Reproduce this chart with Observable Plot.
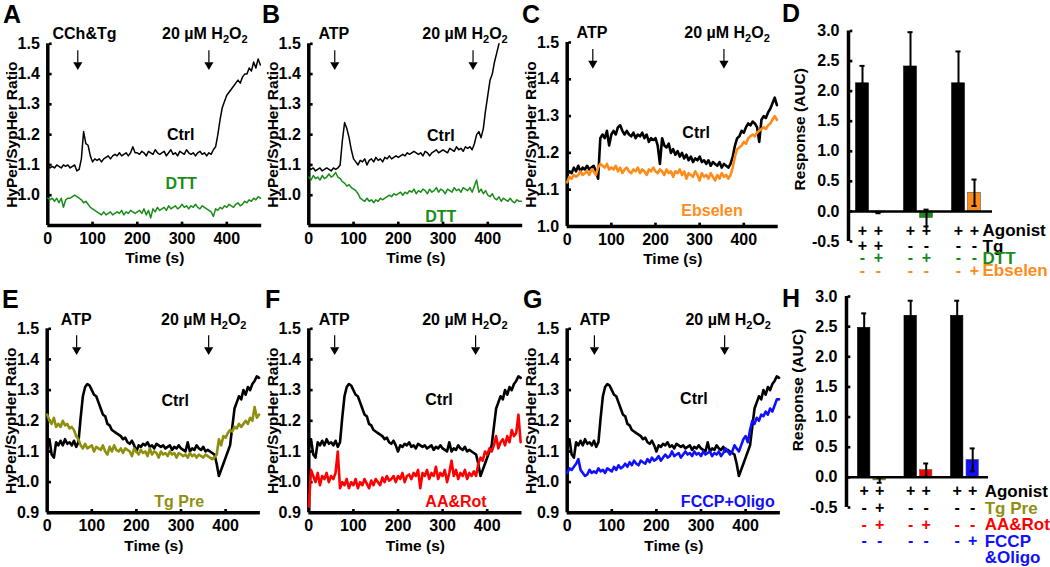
<!DOCTYPE html>
<html><head><meta charset="utf-8">
<script src="https://cdn.jsdelivr.net/npm/d3@7"></script>
<script src="https://cdn.jsdelivr.net/npm/@observablehq/plot@0.6"></script>
<style>
body{margin:0;background:#fff;}
#fig{position:relative;width:1050px;height:567px;overflow:hidden;background:#fff;}
#fig svg{position:absolute;overflow:visible;}
</style></head><body><div id="fig"></div>
<script>
// ---------- data ----------
const times = [0,5,10,15,20,25,30,35,40,45,50,55,60,65,70,75,80,85,90,95,100,105,110,115,120,125,130,135,140,145,150,155,160,165,170,175,180,185,190,195,200,205,210,215,220,225,230,235,240,245,250,255,260,265,270,275,280,285,290,295,300,305,310,315,320,325,330,335,340,345,350,355,360,365,370,375,380,385,390,395,400,405,410,415,420,425,430,435,440,445,450,455,460,465,470,475];
const timeTicks = [0,100,200,300,400];

const aCtrl = [1.10,1.09,1.095,1.09,1.10,1.095,1.09,1.10,1.095,1.10,1.09,1.095,
 1.10,1.08,1.085,1.12,1.21,1.17,1.165,1.13,
 1.11,1.12,1.115,1.12,1.11,1.12,1.125,1.13,1.12,1.13,1.135,1.13,1.14,1.13,1.135,1.14,1.13,1.14,1.16,1.14,
 1.14,1.135,1.145,1.14,1.13,1.145,1.14,1.135,1.15,1.14,1.135,1.14,1.145,1.13,1.14,1.15,1.135,1.14,1.13,1.145,1.14,1.135,1.15,1.14,1.135,1.14,1.13,1.14,1.145,1.135,1.14,1.13,1.14,1.135,
 1.15,1.16,1.20,1.25,1.29,1.31,1.33,1.34,1.35,1.36,1.37,1.38,1.37,1.39,1.40,1.40,1.42,1.41,1.44,1.42,1.45,1.43];
const aDtt = [0.99,0.985,0.99,0.98,0.99,0.975,0.99,0.96,0.985,0.99,0.99,0.995,
 1.00,0.995,0.99,0.985,0.975,0.98,0.97,0.96,
 0.955,0.95,0.945,0.94,0.935,0.945,0.935,0.94,0.945,0.935,0.94,0.945,0.94,0.95,0.935,0.945,0.94,0.95,0.945,0.94,
 0.945,0.95,0.94,0.955,0.935,0.95,0.925,0.955,0.945,0.96,0.95,0.955,0.96,0.95,0.965,0.955,0.96,0.965,0.955,0.96,0.97,0.96,0.965,0.955,0.965,0.96,0.97,0.96,0.955,0.965,0.96,0.955,0.95,0.945,
 0.93,0.955,0.95,0.96,0.955,0.965,0.96,0.97,0.965,0.96,0.97,0.975,0.965,0.97,0.98,0.975,0.985,0.98,0.99,0.985,0.995,0.99];
const bCtrl = [1.09,1.085,1.09,1.08,1.085,1.09,1.08,1.085,1.09,1.085,1.08,1.09,
 1.085,1.09,1.10,1.18,1.24,1.22,1.19,1.15,
 1.12,1.11,1.10,1.115,1.11,1.12,1.10,1.115,1.12,1.11,1.125,1.115,1.12,1.11,1.125,1.12,1.13,1.12,1.125,1.13,
 1.125,1.13,1.135,1.13,1.14,1.135,1.14,1.145,1.14,1.135,1.14,1.13,1.145,1.14,1.13,1.14,1.145,1.15,1.14,1.145,1.15,1.145,1.14,1.155,1.15,1.145,1.16,1.15,1.155,1.145,1.16,1.155,1.16,1.15,
 1.17,1.20,1.21,1.19,1.22,1.28,1.33,1.38,1.40,1.44,1.47,1.50,null,null,null,null,null,null,null,null,null,null];
const bDtt = [1.06,1.05,1.065,1.055,1.06,1.05,1.065,1.055,1.06,1.07,1.06,1.065,
 1.075,1.06,1.055,1.045,1.04,1.03,1.035,1.025,
 1.02,1.015,1.005,0.99,0.985,0.98,0.99,0.98,0.985,0.975,0.985,0.98,0.99,0.985,0.99,0.995,1.00,0.995,1.005,1.00,
 1.005,1.01,1.00,1.01,1.005,1.015,1.01,1.02,1.005,1.015,1.01,1.02,1.015,1.005,1.02,1.01,1.015,1.025,1.01,1.02,1.015,1.005,1.02,1.015,1.01,1.025,1.015,1.02,1.01,1.025,1.02,1.015,1.025,1.01,
 1.03,1.05,1.01,1.02,1.005,1.015,1.00,0.995,1.005,0.99,0.985,0.995,0.98,0.99,0.985,0.98,0.99,0.98,0.975,0.985,0.98,0.98];
const cCtrl = [1.14,1.15,1.145,1.16,1.15,1.165,1.15,1.16,1.155,1.165,1.155,1.16,
 1.165,1.15,1.13,1.24,1.25,1.24,1.26,1.22,
 1.25,1.26,1.25,1.27,1.275,1.26,1.25,1.26,1.25,1.245,1.255,1.24,1.25,1.245,1.255,1.24,1.25,1.23,1.24,1.235,
 1.24,1.22,1.17,1.24,1.22,1.215,1.225,1.20,1.21,1.195,1.205,1.19,1.20,1.185,1.195,1.18,1.19,1.175,1.185,1.18,1.19,1.175,1.18,1.17,1.18,1.165,1.175,1.17,1.165,1.175,1.16,1.17,1.165,1.16,
 1.17,1.19,1.22,1.24,1.245,1.26,1.255,1.27,1.28,1.275,1.285,1.28,1.27,1.23,1.29,1.30,1.295,1.31,1.32,1.335,1.35,1.33];
const cEbselen = [1.12,1.135,1.13,1.14,1.135,1.14,1.15,1.14,1.145,1.15,1.14,1.155,
 1.15,1.14,1.16,1.17,1.165,1.16,1.17,1.155,
 1.16,1.155,1.165,1.15,1.16,1.145,1.155,1.16,1.15,1.145,1.155,1.15,1.16,1.145,1.155,1.15,1.14,1.155,1.15,1.16,
 1.15,1.145,1.155,1.15,1.14,1.155,1.145,1.15,1.135,1.15,1.145,1.155,1.14,1.15,1.13,1.145,1.14,1.135,1.15,1.14,1.125,1.145,1.135,1.14,1.13,1.145,1.135,1.125,1.14,1.13,1.145,1.135,1.14,1.13,
 1.14,1.16,1.19,1.21,1.215,1.22,1.23,1.225,1.24,1.245,1.25,1.245,1.255,1.26,1.265,1.27,1.265,1.275,1.28,1.29,1.30,1.29];
const efgCtrl = [1.11,1.14,1.09,1.08,1.13,1.12,1.135,1.12,1.14,1.125,1.13,1.12,
 1.135,1.115,1.13,1.21,1.28,1.31,1.32,1.315,
 1.30,1.285,1.28,1.26,1.24,1.22,1.215,1.19,1.185,1.17,1.165,1.16,1.155,1.15,1.14,1.145,1.13,1.125,1.135,1.12,
 1.10,1.12,1.115,1.125,1.12,1.13,1.115,1.12,1.11,1.125,1.12,1.115,1.12,1.11,1.115,1.12,1.105,1.115,1.11,1.12,1.11,1.105,1.10,1.13,1.10,1.11,1.105,1.12,1.11,1.105,1.115,1.10,1.105,1.10,
 1.095,1.09,1.06,1.02,1.04,1.06,1.08,1.10,1.12,1.18,1.24,1.26,1.28,1.27,1.30,1.285,1.31,1.30,1.32,1.33,1.345,1.34];
const eTgPre = [1.22,1.20,1.19,1.21,1.18,1.19,1.18,1.20,1.185,1.19,1.175,1.18,
 1.17,1.15,1.14,1.12,1.11,1.125,1.11,1.115,
 1.12,1.10,1.115,1.11,1.105,1.12,1.10,1.09,1.115,1.10,1.12,1.105,1.10,1.11,1.095,1.11,1.105,1.10,1.085,1.11,
 1.10,1.09,1.105,1.095,1.10,1.085,1.11,1.09,1.10,1.095,1.08,1.10,1.09,1.095,1.085,1.10,1.09,1.095,1.08,1.095,1.09,1.085,1.09,1.08,1.095,1.085,1.09,1.08,1.09,1.085,1.08,1.09,1.085,1.08,
 1.075,1.08,1.09,1.14,1.12,1.15,1.145,1.16,1.17,1.165,1.18,1.175,1.19,1.18,1.19,1.20,1.19,1.21,1.20,1.245,1.21,1.22];
const fAARot = [0.92,1.04,1.02,1.00,1.03,0.99,1.02,1.01,1.03,1.00,1.02,1.01,
 1.03,1.10,0.98,1.00,0.99,1.01,0.98,1.00,
 0.99,1.01,0.98,1.00,0.99,1.01,0.995,0.98,1.005,0.99,1.01,1.00,0.99,1.015,1.00,1.02,1.005,1.01,1.02,1.00,
 1.02,1.01,1.03,1.00,1.02,1.025,1.01,1.03,1.02,1.04,0.98,1.03,1.02,1.04,1.01,1.03,1.02,1.05,1.01,1.03,1.02,1.04,1.00,1.03,1.07,1.02,1.04,1.01,1.03,1.02,1.04,1.01,1.03,1.02,
 1.035,1.02,1.06,1.08,1.07,1.10,1.09,1.11,1.10,1.12,1.15,1.11,1.13,1.14,1.12,1.15,1.13,1.17,1.15,1.16,1.22,1.13];
const gFccpOligo = [1.03,1.045,1.04,1.05,1.06,1.075,1.04,1.03,1.02,1.025,1.04,1.03,
 1.035,1.03,1.045,1.035,1.04,1.03,1.045,1.04,
 1.035,1.05,1.04,1.055,1.045,1.05,1.06,1.05,1.065,1.055,1.07,1.06,1.055,1.07,1.065,1.06,1.075,1.065,1.08,1.07,
 1.075,1.085,1.07,1.08,1.09,1.08,1.085,1.10,1.085,1.09,1.095,1.08,1.09,1.10,1.09,1.095,1.085,1.10,1.09,1.095,1.085,1.10,1.09,1.095,1.10,1.085,1.095,1.09,1.10,1.085,1.095,1.11,1.10,1.09,
 1.10,1.12,1.11,1.10,1.12,1.14,1.15,1.13,1.17,1.20,1.19,1.21,1.20,1.22,1.215,1.23,1.22,1.24,1.23,1.25,1.27,1.27];

// stimulus arrows (time, s) and their labels
const aArrows = [67, 360], bArrows = [58, 367], cArrows = [58, 355];
const eArrows = [66, 362], fArrows = [58, 374], gArrows = [61, 353];
const aStimuli = ["CCh&Tg", "20 µM H2O2"], otherStimuli = ["ATP", "20 µM H2O2"];
const aStimT = [82, 351], bStimT = [56, 349], cStimT = [56, 362];
const eStimT = [65, 351], fStimT = [57, 350], gStimT = [62, 361];

// trace labels
const aLabels = [{name:"Ctrl", t:297, v:1.198, color:"black"}, {name:"DTT", t:298, v:1.037, color:"#1a8c1a"}];
const bLabels = [{name:"Ctrl", t:295, v:1.195, color:"black"}, {name:"DTT", t:295, v:0.93, color:"#1a8c1a"}];
const cLabels = [{name:"Ctrl", t:292, v:1.255, color:"black"}, {name:"Ebselen", t:328, v:1.042, color:"#ff8c1a"}];
const eLabels = [{name:"Ctrl", t:287, v:1.264, color:"black"}, {name:"Tg Pre", t:296, v:0.935, color:"#8f8f0f"}];
const fLabels = [{name:"Ctrl", t:292, v:1.267, color:"black"}, {name:"AA&Rot", t:330, v:0.935, color:"#ff0000"}];
const gLabels = [{name:"Ctrl", t:284, v:1.27, color:"black"}, {name:"FCCP+Oligo", t:360, v:0.935, color:"#1010ff"}];

// bar charts (AUC)
const dMeans = [2.13, -0.02, 2.41, -0.11, 2.13, 0.31];
const dSems  = [0.29, 0.01, 0.57, 0.14, 0.53, 0.22];
const dColors = ["black", "#1a8c1a", "black", "#1a8c1a", "black", "#ff8c1a"];
const hMeans = [2.48, -0.05, 2.68, 0.12, 2.68, 0.29];
const hSems  = [0.24, 0.04, 0.25, 0.11, 0.25, 0.19];
const hColors = ["black", "#8f8f0f", "black", "#ff0000", "black", "#1010ff"];
const barTicks = [-0.5, 0, 0.5, 1, 1.5, 2, 2.5, 3];

const dAgonist = ["+","+","+","+","+","+"];
const dTg      = ["+","+","-","-","-","-"];
const dDTT     = ["-","+","-","+","-","-"];
const dEbselen = ["-","-","-","-","-","+"];
const hAgonist = ["+","+","+","+","+","+"];
const hTgPre   = ["-","+","-","-","-","-"];
const hAARot   = ["-","+","-","+","-","-"];
const hFCCP    = ["-","-","-","-","-","+"];

// ---------- drawing ----------
const FONT = '"Liberation Sans", Arial, Helvetica, sans-serif';
const fig = document.getElementById("fig");
const baseStyle = {fontFamily: FONT, fontSize: "16px", fontWeight: "bold", color: "black", background: "transparent", overflow: "visible"};

function place(svg, left, top) {
  svg.style.left = left + "px"; svg.style.top = top + "px";
  fig.appendChild(svg);
}
function subscripts(svg) {
  d3.select(svg).selectAll("text").filter(function() { return this.textContent === "20 µM H2O2"; }).each(function() {
    const t = d3.select(this); t.text(null);
    t.append("tspan").text("20 µM H");
    t.append("tspan").attr("dy", 4).attr("font-size", "11px").text("2");
    t.append("tspan").attr("dy", -4).text("O");
    t.append("tspan").attr("dy", 4).attr("font-size", "11px").text("2");
  });
}

function tracePanel(c) {
  const xMax = 478;
  const frameW = xMax * c.pps;
  const mL = c.axisX - c.left, mT = c.yTopPx - c.top, mB = c.top + c.height - c.yBotPx;
  const mR = c.width - mL - frameW;
  const frameH = c.yBotPx - c.yTopPx;
  const marks = [
    Plot.ruleX([0], {strokeWidth: 3.5, stroke: "black"}),
    Plot.ruleY([c.yDomain[0]], {strokeWidth: 3.5, stroke: "black"}),
    Plot.dot(c.yTicks, {y: d => d, frameAnchor: "left", dx: 2.5, r: 1.5, symbol: "square", fill: "black"}),
    Plot.dot(timeTicks.slice(1), {x: d => d, frameAnchor: "bottom", dy: -2.5, r: 1.5, symbol: "square", fill: "black"}),
    ...c.series.map(s => Plot.line(s.values, {x: (d, i) => times[i], y: d => d, stroke: s.color, strokeWidth: s.w, strokeLinejoin: "round"})),
    Plot.text(c.labels, {x: "t", y: "v", text: "name", fill: "color", fontSize: 16}),
    Plot.ruleX(c.arrows, {x: d => d, insetTop: 7, insetBottom: frameH - 19, strokeWidth: 1.2, stroke: "black"}),
    Plot.dot(c.arrows, {x: d => d, frameAnchor: "top", dy: 21, symbol: "triangle", rotate: 180, r: 3.4, fill: "black", stroke: "none"}),
    Plot.text(c.stim, {x: (d, i) => c.stimT[i], frameAnchor: "top", lineAnchor: "middle", dy: c.stimDy, text: d => d, fontSize: 16}),
    Plot.text(["HyPer/SypHer Ratio"], {frameAnchor: "left", textAnchor: "middle", lineAnchor: "middle", rotate: -90, dx: -36, text: d => d, fontSize: 15.5}),
    Plot.text(["Time (s)"], {frameAnchor: "bottom", textAnchor: "middle", lineAnchor: "middle", dy: 33, text: d => d, fontSize: 15.5})
  ];
  const svg = Plot.plot({
    width: c.width, height: c.height, marginLeft: mL, marginRight: mR, marginTop: mT, marginBottom: mB,
    x: {domain: [0, xMax], ticks: timeTicks, tickSize: 0, tickPadding: c.xPad, label: null},
    y: {domain: c.yDomain, ticks: c.yTicks, tickSize: 0, tickPadding: 8, tickFormat: d => d.toFixed(1), label: null},
    style: baseStyle,
    marks
  });
  subscripts(svg);
  place(svg, c.left, c.top);
}

function barPanel(c) {
  const bars = c.means.map((m, i) => ({pos: Math.floor(i / 2) * 3 + (i % 2), mean: m, sem: c.sems[i], color: c.colors[i]}));
  const mL = c.axisX - c.left, mT = c.yTopPx - c.top, mB = c.top + c.height - c.yBotPx;
  const mR = c.width - mL - c.frameW;
  const colored = bars.filter(d => d.color !== "black");
  const marks = [
    Plot.rectY(bars, {x1: d => d.pos - 0.4, x2: d => d.pos + 0.4, y1: () => 0, y2: d => d.mean, fill: d => d.color, stroke: d => d.color === "black" ? "black" : "#555", strokeWidth: 0.6}),
    Plot.ruleX(bars, {x: "pos", y1: d => d.mean - d.sem, y2: d => d.mean + d.sem, strokeWidth: 2, stroke: "black"}),
    Plot.ruleY(bars, {y: d => d.mean + d.sem, x1: d => d.pos - 0.16, x2: d => d.pos + 0.16, strokeWidth: 2, stroke: "black"}),
    Plot.ruleY(colored, {y: d => d.mean - d.sem, x1: d => d.pos - 0.16, x2: d => d.pos + 0.16, strokeWidth: 2, stroke: "black"}),
    Plot.ruleY([0], {strokeWidth: 2.5, stroke: "black"}),
    Plot.ruleX([c.xDomain[0]], {strokeWidth: 3.5, stroke: "black"}),
    Plot.dot(barTicks, {y: d => d, frameAnchor: "left", dx: 2.5, r: 1.5, symbol: "square", fill: "black"}),
    Plot.text(["Response (AUC)"], {frameAnchor: "left", textAnchor: "middle", lineAnchor: "middle", rotate: -90, dx: -48, dy: c.titleDy, text: d => d, fontSize: 15.5})
  ];
  c.rows.forEach(r => {
    if (r.signs) marks.push(Plot.text(r.signs, {x: (d, i) => bars[i].pos, frameAnchor: "bottom", lineAnchor: "middle", dy: r.dy, text: d => d, fill: r.signColor, fontSize: 16}));
    marks.push(Plot.text([r.name], {x: () => bars[5].pos, dx: c.nameDx, frameAnchor: "bottom", lineAnchor: "middle", dy: r.dy, text: d => d, textAnchor: "start", fill: r.color, fontSize: 17}));
  });
  const svg = Plot.plot({
    width: c.width, height: c.height, marginLeft: mL, marginRight: mR, marginTop: mT, marginBottom: mB,
    x: {domain: c.xDomain, axis: null},
    y: {domain: [-0.5, 3], ticks: barTicks, tickSize: 0, tickPadding: 9, tickFormat: d => d.toFixed(1), label: null},
    style: baseStyle,
    marks
  });
  place(svg, c.left, c.top);
}

const GREEN = "#1a8c1a", ORANGE = "#ff8c1a", OLIVE = "#8f8f0f", RED = "#ff0000", BLUE = "#1010ff";
const yTop = [1.0, 1.1, 1.2, 1.3, 1.4, 1.5];
const yBot = [0.9, 1.0, 1.1, 1.2, 1.3, 1.4, 1.5];

tracePanel({left: 0, top: 0, width: 262, height: 270, axisX: 47.3, yTopPx: 43.3, yBotPx: 225, pps: 0.4475, xPad: 7,
  yDomain: [0.9, 1.5], yTicks: yTop, series: [{values: aCtrl, color: "black", w: 1.5}, {values: aDtt, color: GREEN, w: 1.5}],
  labels: aLabels, arrows: aArrows, stim: aStimuli, stimT: aStimT, stimDy: -10});
tracePanel({left: 262, top: 0, width: 262, height: 270, axisX: 308.3, yTopPx: 43.3, yBotPx: 225, pps: 0.4475, xPad: 7,
  yDomain: [0.9, 1.5], yTicks: yTop, series: [{values: bCtrl, color: "black", w: 1.5}, {values: bDtt, color: GREEN, w: 1.5}],
  labels: bLabels, arrows: bArrows, stim: otherStimuli, stimT: bStimT, stimDy: -10});
tracePanel({left: 522, top: 0, width: 262, height: 270, axisX: 566.7, yTopPx: 42, yBotPx: 226, pps: 0.4415, xPad: 7,
  yDomain: [1.0, 1.5], yTicks: yTop, series: [{values: cCtrl, color: "black", w: 2.6}, {values: cEbselen, color: ORANGE, w: 2.6}],
  labels: cLabels, arrows: cArrows, stim: otherStimuli, stimT: cStimT, stimDy: -10});
tracePanel({left: 0, top: 280, width: 262, height: 287, axisX: 46.7, yTopPx: 328.3, yBotPx: 512.3, pps: 0.446, xPad: 6.5,
  yDomain: [0.9, 1.5], yTicks: yBot, series: [{values: efgCtrl, color: "black", w: 2.6}, {values: eTgPre, color: OLIVE, w: 2.6}],
  labels: eLabels, arrows: eArrows, stim: otherStimuli, stimT: eStimT, stimDy: -9});
tracePanel({left: 262, top: 280, width: 262, height: 287, axisX: 308.3, yTopPx: 328.3, yBotPx: 512.3, pps: 0.446, xPad: 6.5,
  yDomain: [0.9, 1.5], yTicks: yBot, series: [{values: efgCtrl, color: "black", w: 2.6}, {values: fAARot, color: RED, w: 2.6}],
  labels: fLabels, arrows: fArrows, stim: otherStimuli, stimT: fStimT, stimDy: -9});
tracePanel({left: 522, top: 280, width: 262, height: 287, axisX: 566.7, yTopPx: 328.3, yBotPx: 512.3, pps: 0.446, xPad: 6.5,
  yDomain: [0.9, 1.5], yTicks: yBot, series: [{values: efgCtrl, color: "black", w: 2.6}, {values: gFccpOligo, color: BLUE, w: 2.6}],
  labels: gLabels, arrows: gArrows, stim: otherStimuli, stimT: gStimT, stimDy: -9});

barPanel({left: 782, top: 0, width: 268, height: 280, axisX: 848, yTopPx: 30.5, yBotPx: 241, frameW: 144, xDomain: [-0.875, 8.125],
  means: dMeans, sems: dSems, colors: dColors, nameDx: 8, titleDy: -7,
  rows: [{signs: dAgonist, name: "Agonist", color: "black", signColor: "black", dy: -11},
         {signs: dTg, name: "Tg", color: "black", signColor: "black", dy: 4.7},
         {signs: dDTT, name: "DTT", color: GREEN, signColor: GREEN, dy: 16.7},
         {signs: dEbselen, name: "Ebselen", color: ORANGE, signColor: ORANGE, dy: 29}]});
barPanel({left: 782, top: 280, width: 268, height: 287, axisX: 846, yTopPx: 296, yBotPx: 507, frameW: 142, xDomain: [-1.14, 8.02],
  means: hMeans, sems: hSems, colors: hColors, nameDx: 12, titleDy: -12,
  rows: [{signs: hAgonist, name: "Agonist", color: "black", signColor: "black", dy: -16.3},
         {signs: hTgPre, name: "Tg Pre", color: OLIVE, signColor: "black", dy: 0.7},
         {signs: hAARot, name: "AA&Rot", color: RED, signColor: RED, dy: 17.3},
         {signs: hFCCP, name: "FCCP", color: BLUE, signColor: BLUE, dy: 33.7},
         {signs: null, name: "&Oligo", color: BLUE, signColor: BLUE, dy: 50.3}]});

// panel letters
const letters = [{s: "A", x: 3, y: 23}, {s: "B", x: 262, y: 23}, {s: "C", x: 522, y: 23}, {s: "D", x: 782, y: 22},
                 {s: "E", x: 2, y: 307.5}, {s: "F", x: 265, y: 307.5}, {s: "G", x: 523, y: 307.5}, {s: "H", x: 782, y: 307}];
const over = d3.select(fig).append("svg").attr("width", 1050).attr("height", 567).style("left", "0px").style("top", "0px").style("pointer-events", "none");
over.selectAll("text").data(letters).join("text").attr("x", d => d.x).attr("y", d => d.y)
  .attr("font-family", FONT).attr("font-weight", "bold").attr("font-size", 25).text(d => d.s);
</script></body></html>
